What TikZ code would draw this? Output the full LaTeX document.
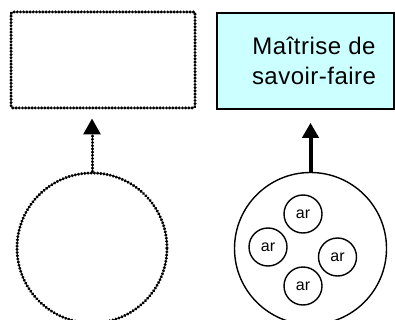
\documentclass[tikz,border=0pt]{standalone}
\usepackage{fontspec}
\setmainfont{Liberation Sans}
\newfontfamily\boxfont[LetterSpace=2]{Liberation Sans}
\usetikzlibrary{arrows.meta}
\definecolor{boxcyan}{HTML}{CCFFFF}
\begin{document}
\begin{tikzpicture}[x=1pt,y=-1pt,
  dotline/.style={line width=3pt, dash pattern=on 0.4pt off 2.8pt, line cap=round},
  solidbox/.style={draw=black, line width=1.6pt, fill=boxcyan},
  smallc/.style={circle, draw, line width=1.4pt, minimum size=38pt, inner sep=0pt,
                 font=\fontsize{16}{16}\selectfont}]
\useasboundingbox (0,0) rectangle (395,320);

% boxes
\node[draw, dotline, rounded corners=1.5pt, minimum width=184pt, minimum height=96pt, inner sep=0pt] (lbox) at (103,60) {};
\node[solidbox, minimum width=177pt, minimum height=96pt, inner sep=0pt] (rbox) at (305.5,61) {};
\node[align=center, inner sep=0pt, font=\boxfont\fontsize{24}{30}\selectfont] (txt) at (314,61) {Maîtrise de\\savoir-faire};

% circles
\node[circle, draw, dotline, minimum size=150pt, inner sep=0pt] (lcirc) at (92,248) {};
\node[circle, draw, line width=1.4pt, minimum size=152pt, inner sep=0pt] (rcirc) at (310.5,248.5) {};

\node[smallc] (a1) at (303,214) {ar};
\node[smallc] (a2) at (268,247) {ar};
\node[smallc] (a3) at (337.5,257) {ar};
\node[smallc] (a4) at (303,286) {ar};

% arrows
\draw[dotline, -{Triangle[width=17pt,length=16pt]}, shorten >=9pt] (lcirc.north) -- (lcirc.north |- lbox.south);
\draw[line width=4pt, -{Triangle[width=16pt,length=15pt]}, shorten >=13pt] (rcirc.north) -- (rcirc.north |- rbox.south);
\end{tikzpicture}
\end{document}
